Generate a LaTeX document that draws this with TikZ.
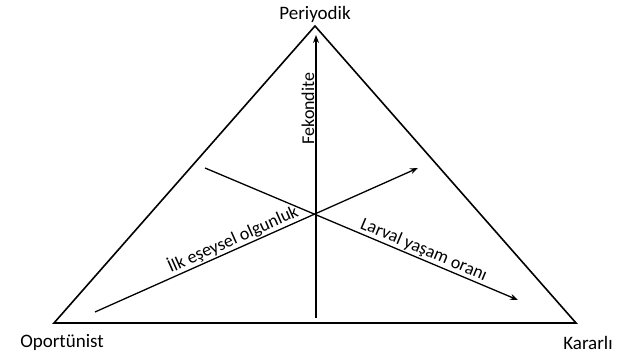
\documentclass[tikz,border=0pt]{standalone}
\usepackage{fontspec}
\setmainfont{Carlito}
\usetikzlibrary{arrows.meta}
\begin{document}
\begin{tikzpicture}[x=1pt,y=-1pt,
  edge/.style={line width=1.6pt},
  arr/.style={line width=1.3pt,-{Stealth[length=8pt,width=6pt]}},
  lbl/.style={font=\fontsize{18}{20}\selectfont,inner sep=1pt},
  corner/.style={font=\fontsize{19}{21}\selectfont,inner sep=0pt}]
\useasboundingbox (0,0) rectangle (624,355);
\coordinate (A) at (315,26);
\coordinate (B) at (54,323);
\coordinate (C) at (576,323);
\draw[edge,line join=miter] (A) -- (B) -- (C) -- cycle;
\node[corner] (per) at (315,14) {Periyodik};
\node[corner] (opo) at (62,342) {Oportünist};
\node[corner] (kar) at (588,343) {Kararlı};
\coordinate (f0) at (316,318);
\coordinate (f1) at (316,35);
\coordinate (i0) at (95,312);
\coordinate (i1) at (418,168);
\coordinate (l0) at (205,168);
\coordinate (l1) at (518,300);
\draw[arr] (f0) -- node[lbl,pos=0.74,sloped,above] (fek) {Fekondite} (f1);
\draw[arr] (i0) -- node[lbl,pos=0.44,sloped,above] (ilk) {İlk eşeysel olgunluk} (i1);
\draw[arr] (l0) -- node[lbl,pos=0.687,sloped,above] (lar) {Larval yaşam oranı} (l1);
\end{tikzpicture}
\end{document}
